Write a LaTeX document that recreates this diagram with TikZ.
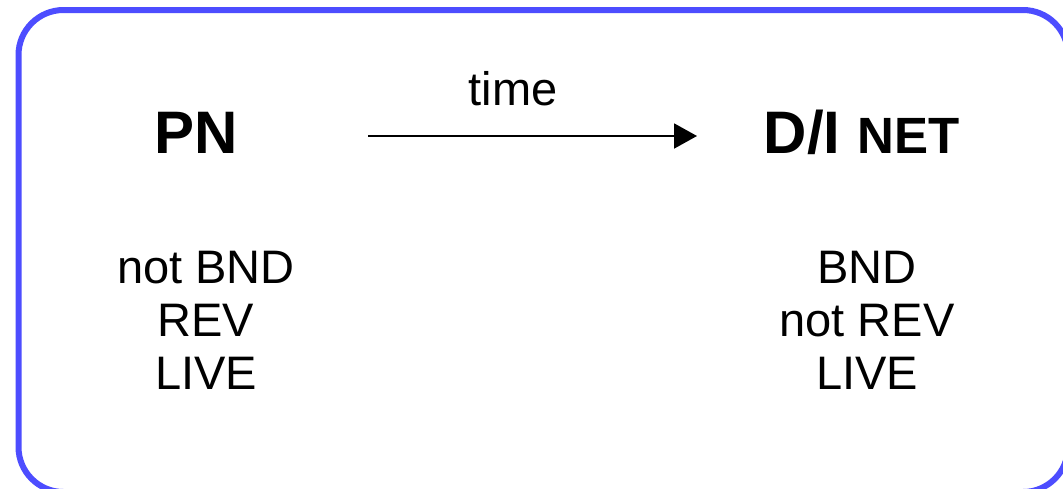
\documentclass[tikz,border=0pt]{standalone}
\usepackage{fontspec}
\setmainfont{Liberation Sans}
\usetikzlibrary{arrows.meta}
\definecolor{frameblue}{HTML}{4D4DFF}
\begin{document}
\begin{tikzpicture}[x=1pt,y=-1pt,
  title/.style={font=\fontsize{60}{66}\selectfont\bfseries, inner sep=0pt, anchor=base},
  props/.style={font=\fontsize{47}{53}\selectfont, inner sep=0pt, align=center},
  label/.style={font=\fontsize{47}{53}\selectfont, inner sep=0pt, anchor=base}]
\useasboundingbox (0,0) rectangle (1063,488);
\clip (0,0) rectangle (1063,488);
% rounded frame, partly running off the right and bottom edges
\draw[frameblue, line width=6pt, rounded corners=45pt] (18.5,10) rectangle (1068,492);
% headings
\node[title] (pn) at (196,153) {PN};
\node[title] (di) at (861.5,153) {D/I \fontsize{51}{56}\selectfont NET};
% time arrow
\coordinate (arrS) at (368,136);
\coordinate (arrE) at (697,136);
\draw[line width=2pt, -{Triangle[length=23pt,width=25pt]}] (arrS) -- (arrE);
\node[label] (time) at (513,105) {time};
% properties
\node[props] (left) at (206,320) {not BND\\REV\\LIVE};
\node[props] (right) at (867,320) {BND\\not REV\\LIVE};
\end{tikzpicture}
\end{document}
